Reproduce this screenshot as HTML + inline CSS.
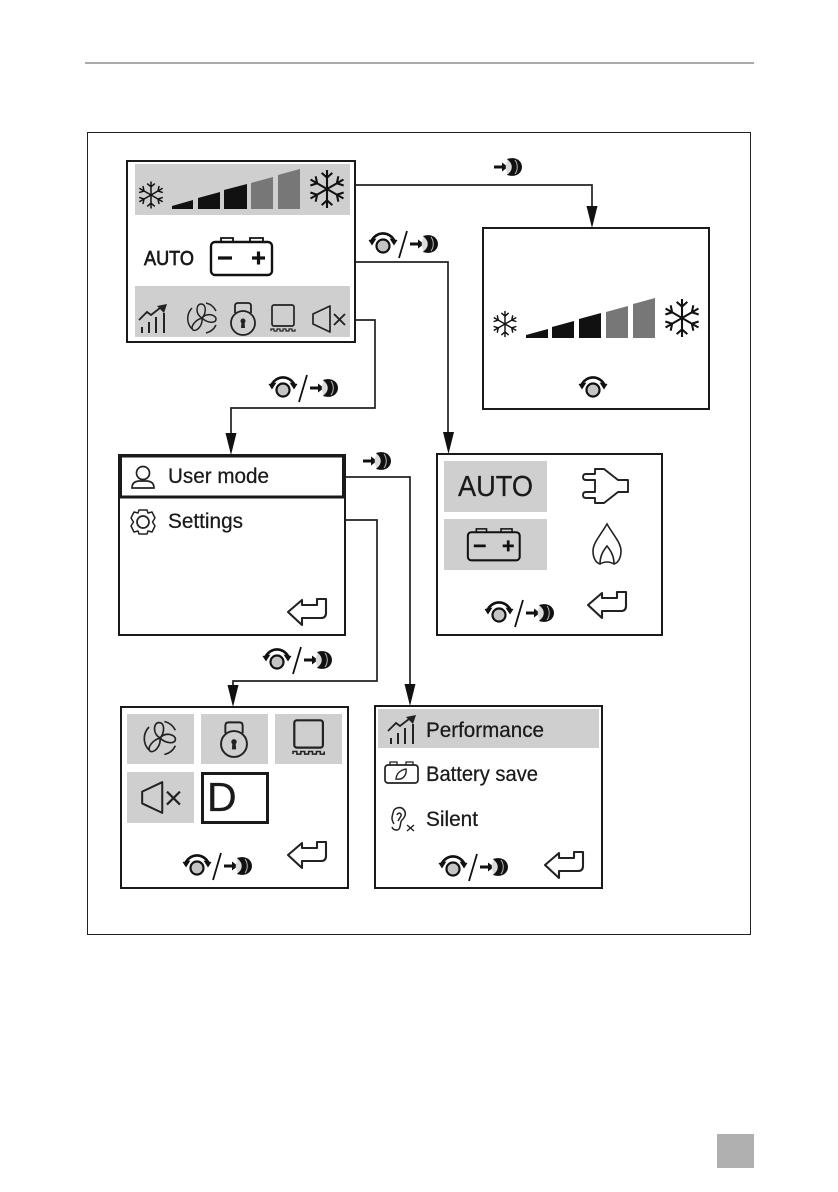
<!DOCTYPE html>
<html><head><meta charset="utf-8"><style>
html,body{margin:0;padding:0;background:#fff}
svg{display:block}
text{font-family:"Liberation Sans",sans-serif;fill:#1a1a1a;stroke:#1a1a1a;stroke-width:.25}
</style></head><body>
<svg width="838" height="1192" viewBox="0 0 838 1192" xmlns="http://www.w3.org/2000/svg">
<defs>
<g id="rot">
  <path d="M-11,-6 A12.5,12.5 0 0 1 11,-6" fill="none" stroke="#111" stroke-width="2.6"/>
  <path d="M-14.500,-6 L-6.500,-7.500 L-11,-0.500 Z M14.500,-6 L6.500,-7.500 L11,-0.500 Z" fill="#111"/>
  <circle r="6.500" fill="#c4c4c4" stroke="#111" stroke-width="2.2"/>
</g>
<g id="press">
  <path d="M0,0 H9" stroke="#111" stroke-width="3"/>
  <path d="M8,-4.500 L14,0 L8,4.500 Z" fill="#111"/>
  <path d="M13,-8 C22,-11 28,-6 28,0 C28,6 22,11 13,8 C16,5 16,-5 13,-8 Z" fill="#111"/>
  <path d="M21,-7 C24,-3 24,3 21,7" fill="none" stroke="#bbb" stroke-width="1"/>
  <path d="M14,-7 C19,-3 19,3 14,7 C11,3 11,-3 14,-7 Z" fill="#dcdcdc"/>
</g>
<g id="rp">
  <use href="#rot"/>
  <path d="M24,-15 L16,12" stroke="#111" stroke-width="1.800"/>
  <use href="#press" x="27" y="-2"/>
</g>
<g id="ret">
  <path d="M1,14 L15,2 V7 H30 V1 H39 V15 Q39,20 34,20 H15 V27 Z" fill="none" stroke="#222" stroke-width="2.100" stroke-linejoin="round"/>
</g>
<g id="flake" fill="none" stroke="#111" stroke-width="0.11">
  <g id="fa"><path d="M0,-1 V1 M-.28,-.85 L0,-.6 L.28,-.85 M-.28,.85 L0,.6 L.28,.85"/></g>
  <use href="#fa" transform="rotate(60)"/>
  <use href="#fa" transform="rotate(120)"/>
</g>
<g id="bat" fill="none" stroke="#111" stroke-width="2.400">
  <rect x="1" y="5" width="61" height="33" rx="4"/>
  <path d="M11,5 V1 H23 V5 M40,5 V1 H53 V5" stroke-width="1.800"/>
  <path d="M8,21 H22 M42,21 H55 M48.500,14.500 V27.500" stroke-width="3.200"/>
</g>
<g id="chart" fill="none" stroke="#222" stroke-width="2">
  <path d="M3,29 V23 M10,29 V18 M17,29 V13 M25,29 V9"/>
  <path d="M0,16 L8,8 L12,11 L21,4" stroke-width="1.800"/>
  <path d="M18,2 L28,0 L25,9 Z" fill="#222" stroke="none"/>
</g>
<g id="fan" fill="none" stroke="#222" stroke-width="1.500">
  <path d="M0,0 C-7,-4 -6,-14 -1,-14 C5,-14 4,-4 0,0 Z"/>
  <path d="M0,0 C5,-6 14,-3 14,1 C14,6 5,5 0,0 Z"/>
  <path d="M0,0 C1,7 -5,14 -9,12 C-12,9 -7,2 0,0 Z"/>
  <path d="M-10,-10 A15,15 0 0 0 -10,11 M4,-15 A15,15 0 0 1 14,-7 M14,7 A15,15 0 0 1 4,15"/>
</g>
<g id="lock" fill="none" stroke="#222" stroke-width="1.800">
  <path d="M-8,-10 V-17 Q-8,-20 -5,-20 H5 Q8,-20 8,-17 V-10"/>
  <circle r="12"/>
  <circle cy="-2" r="2.500" fill="#222" stroke="none"/>
  <path d="M-1.500,-1 H1.500 L2,5 H-2 Z" fill="#222" stroke="none"/>
</g>
<g id="oven" fill="none" stroke="#222" stroke-width="1.700">
  <rect x="1" y="1" width="22" height="21" rx="2"/>
  <path d="M0,27 V25 H3 V27 H6 V25 H9 V27 H12 V25 H15 V27 H18 V25 H21 V27 H24 V25" stroke-width="1.200"/>
</g>
<g id="spk" fill="none" stroke="#222" stroke-width="1.700">
  <path d="M1,9 L18,1 V27 L1,19 Z" stroke-linejoin="round"/>
  <path d="M22,9 L33,20 M33,9 L22,20" stroke-width="1.900"/>
</g>
</defs>

<rect x="85" y="62" width="669" height="2" fill="#aaa"/>
<rect x="87.500" y="132.500" width="663" height="802" fill="none" stroke="#222" stroke-width="1"/>
<rect x="717" y="1134" width="37" height="34" fill="#b0b0b0"/>

<!-- connectors -->
<g fill="none" stroke="#222" stroke-width="1.700">
  <path d="M355,185 H592 V208"/>
  <path d="M355,262 H448 V434"/>
  <path d="M355,320 H375 V408 H231 V435"/>
  <path d="M345,477 H410 V686"/>
  <path d="M345,520 H377 V681 H233 V688"/>
</g>
<g fill="#111">
  <path d="M586.500,206 H597.500 L592,228 Z"/>
  <path d="M443,432 H454 L448.500,454 Z"/>
  <path d="M225.500,433 H236.500 L231,455 Z"/>
  <path d="M404.500,684 H415.500 L410,706 Z"/>
  <path d="M227.500,685 H238.500 L233,707 Z"/>
</g>

<!-- Box A -->
<rect x="127" y="161" width="228" height="181" fill="#fff" stroke="#1a1a1a" stroke-width="2"/>
<rect x="135" y="164" width="215" height="51" fill="#cfcfcf"/>
<rect x="135" y="286" width="215" height="51" fill="#cfcfcf"/>
<use href="#flake" transform="translate(151,195) scale(13.5)"/>
<use href="#flake" transform="translate(327,189) scale(19)"/>
<g fill="#111">
  <path d="M172,209 V206 L193,200 V209 Z"/>
  <path d="M198,209 V198 L220,192 V209 Z"/>
  <path d="M224,209 V190 L247,184 V209 Z"/>
</g>
<g fill="#777">
  <path d="M251,209 V183 L273,177 V209 Z"/>
  <path d="M278,209 V175 L300,169 V209 Z"/>
</g>
<text x="144" y="265" font-size="20" textLength="50" lengthAdjust="spacingAndGlyphs" style="stroke-width:.7">AUTO</text>
<use href="#bat" transform="translate(210,237)"/>
<use href="#chart" transform="translate(139,304)"/>
<use href="#fan" transform="translate(202,318)"/>
<use href="#lock" transform="translate(243,323)"/>
<use href="#oven" transform="translate(271,304)"/>
<use href="#spk" transform="translate(312,305)"/>
<use href="#rp" x="383" y="246"/>
<use href="#press" x="494" y="167"/>

<!-- Box B -->
<rect x="483" y="228" width="226" height="181" fill="#fff" stroke="#1a1a1a" stroke-width="2"/>
<use href="#flake" transform="translate(505,324) scale(13)"/>
<use href="#flake" transform="translate(682,318) scale(19)"/>
<g fill="#111">
  <path d="M526,338 V335 L548,329 V338 Z"/>
  <path d="M552,338 V327 L574,321 V338 Z"/>
  <path d="M579,338 V319 L601,313 V338 Z"/>
</g>
<g fill="#777">
  <path d="M606,338 V312 L628,306 V338 Z"/>
  <path d="M633,338 V304 L655,298 V338 Z"/>
</g>
<use href="#rot" x="593" y="390"/>
<use href="#rp" x="283" y="390"/>

<!-- Box C -->
<rect x="119" y="455" width="226" height="180" fill="#fff" stroke="#1a1a1a" stroke-width="2"/>
<rect x="120.500" y="456" width="223" height="41" fill="#fff" stroke="#1a1a1a" stroke-width="3"/>
<g fill="none" stroke="#222" stroke-width="1.700">
  <circle cx="143" cy="473" r="6.500"/>
  <path d="M132,488 Q132,481 140,481 H146 Q154,481 154,488 Z"/>
  <circle cx="143" cy="522" r="6"/>
  <path d="M139,510 H147 L148,513 L152,512 L155,518 L152.500,522 L155,526 L152,532 L148,531 L147,534 H139 L138,531 L134,532 L131,526 L133.500,522 L131,518 L134,512 L138,513 Z" stroke-width="1.500" stroke-linejoin="round"/>
</g>
<text x="168" y="483" font-size="21" textLength="101" lengthAdjust="spacingAndGlyphs">User mode</text>
<text x="168" y="528" font-size="21" textLength="75" lengthAdjust="spacingAndGlyphs">Settings</text>
<use href="#ret" x="287" y="598"/>
<use href="#press" x="363" y="461"/>
<use href="#rp" x="277" y="662"/>

<!-- Box D -->
<rect x="437" y="454" width="225" height="181" fill="#fff" stroke="#1a1a1a" stroke-width="2"/>
<rect x="444" y="461" width="103" height="51" fill="#cfcfcf"/>
<rect x="444" y="519" width="103" height="51" fill="#cfcfcf"/>
<text x="458" y="496" font-size="29" textLength="75" lengthAdjust="spacingAndGlyphs">AUTO</text>
<use href="#bat" transform="translate(467,528) scale(.85)"/>
<path d="M583,477 Q583,474 586,474 H595 V469 H604 L618,480 H628 V492 H618 L604,503 H595 V498 H586 Q583,498 583,495 Q583,492 586,492 H595 V480 H586 Q583,480 583,477 Z" fill="none" stroke="#222" stroke-width="1.900" stroke-linejoin="round"/>
<path d="M607,524 C600,536 593,543 593,551 C593,558 596,563 600,564 Q607,560 614,564 C618,563 621,558 621,551 C621,543 614,536 607,524 Z M600,564 C600,556 603,551 607,546 C611,551 614,556 614,564" fill="none" stroke="#222" stroke-width="1.600"/>
<use href="#ret" x="587" y="591"/>
<use href="#rp" x="499" y="615"/>

<!-- Box E -->
<rect x="121" y="707" width="227" height="181" fill="#fff" stroke="#1a1a1a" stroke-width="2"/>
<g fill="#cfcfcf">
  <rect x="127" y="714" width="67" height="50"/>
  <rect x="201" y="714" width="67" height="50"/>
  <rect x="275" y="714" width="67" height="50"/>
  <rect x="127" y="772" width="67" height="51"/>
</g>
<rect x="202.500" y="773.500" width="65" height="49" fill="#fff" stroke="#1a1a1a" stroke-width="3"/>
<text x="207" y="811" font-size="41">D</text>
<use href="#fan" transform="translate(160,738) scale(1.1)"/>
<use href="#lock" transform="translate(234,744) scale(1.08)"/>
<use href="#oven" transform="translate(293,719) scale(1.3)"/>
<use href="#spk" transform="translate(141,781) scale(1.18)"/>
<use href="#ret" x="287" y="841"/>
<use href="#rp" x="197" y="868"/>

<!-- Box F -->
<rect x="375" y="706" width="227" height="182" fill="#fff" stroke="#1a1a1a" stroke-width="2"/>
<rect x="378" y="709" width="221" height="39" fill="#cfcfcf"/>
<use href="#chart" transform="translate(388,715)"/>
<text x="426" y="737" font-size="21" textLength="118" lengthAdjust="spacingAndGlyphs">Performance</text>
<g fill="none" stroke="#222" stroke-width="1.700">
  <rect x="385" y="765" width="33" height="18" rx="3"/>
  <path d="M390,765 V762 H397 V765 M406,765 V762 H413 V765" stroke-width="1.300"/>
  <path d="M396,780 C396,773 401,770 406,769 C407,775 403,780 397,779" stroke-width="1.400"/>
  <path d="M394,824 C391,819 392,817 393,813 C394,807 401,806 404,810 C407,814 404,818 402,820 C400,822 401,826 399,829 C397,831 393,830 392,827 M397,815 C398,812 402,813 401,816 Q399,819 398,821" stroke-width="1.500"/>
  <path d="M407,825 L414,831 M414,825 L407,831" stroke-width="1.400"/>
</g>
<text x="426" y="781" font-size="21" textLength="112" lengthAdjust="spacingAndGlyphs">Battery save</text>
<text x="426" y="826" font-size="21" textLength="52" lengthAdjust="spacingAndGlyphs">Silent</text>
<use href="#ret" x="544" y="851"/>
<use href="#rp" x="453" y="869"/>
</svg>
</body></html>
